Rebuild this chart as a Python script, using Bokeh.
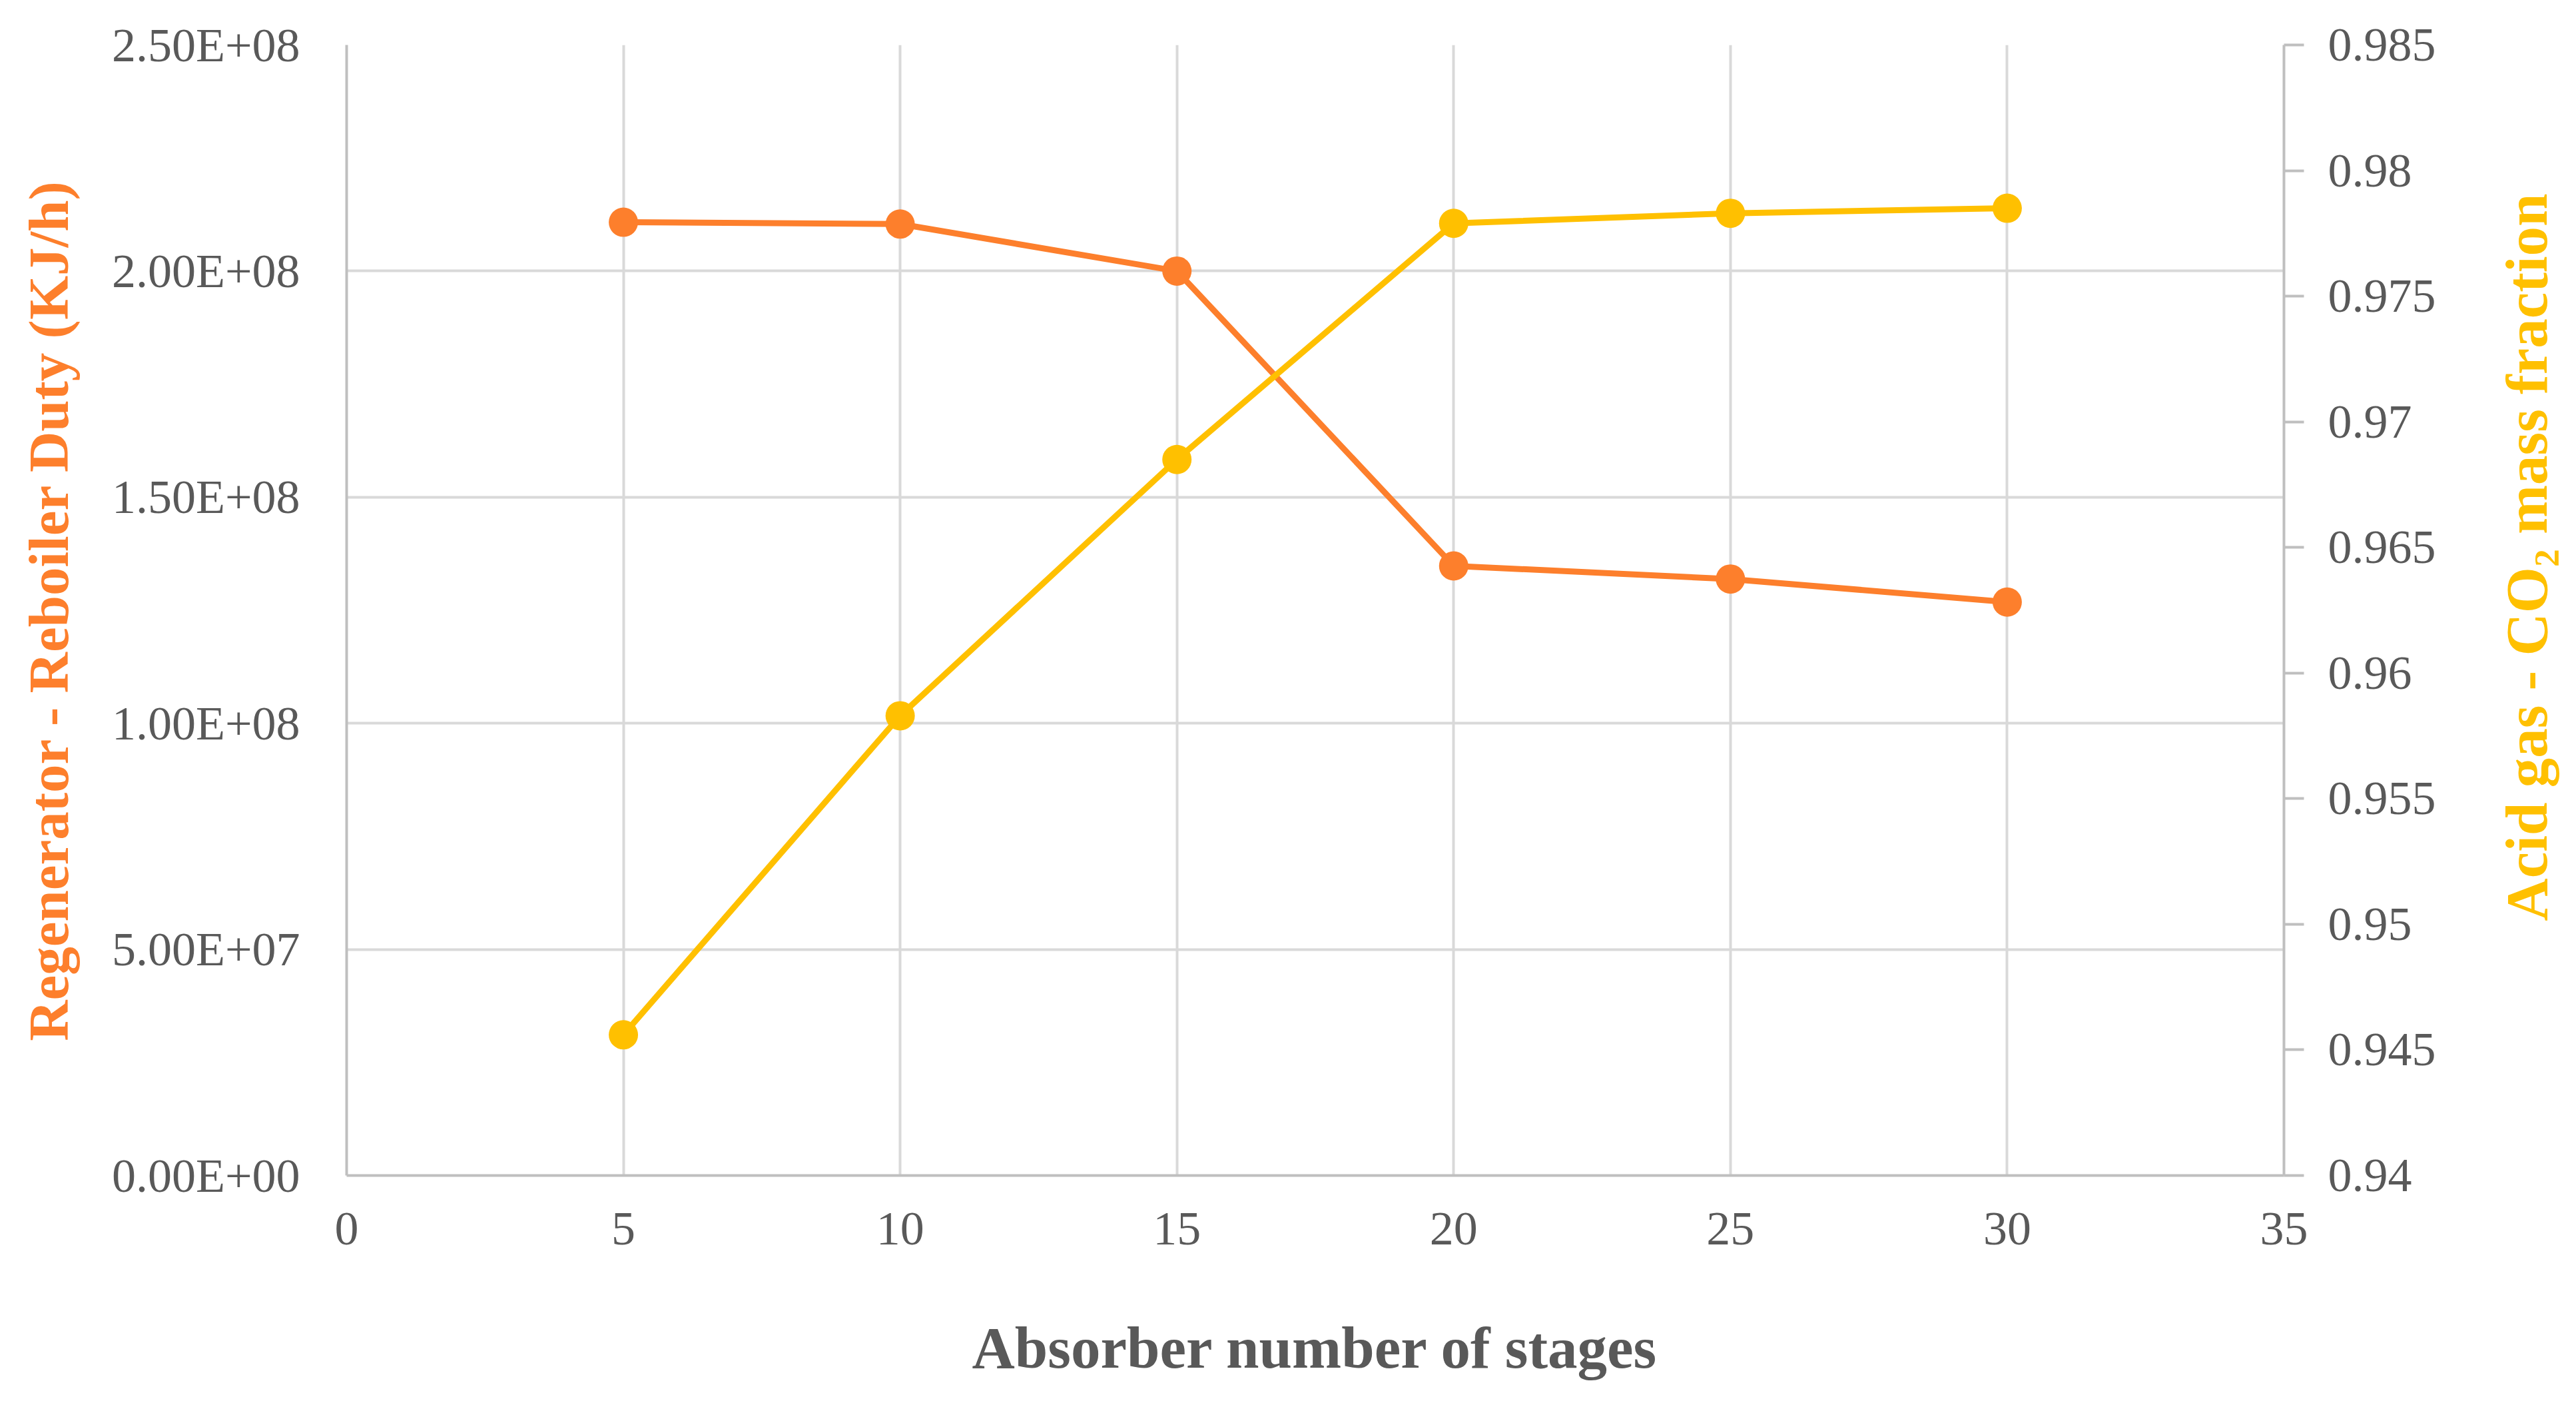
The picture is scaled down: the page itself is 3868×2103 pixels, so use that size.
from bokeh.plotting import figure
from bokeh.layouts import row
from bokeh.models import Range1d, LinearAxis, FixedTicker
from bokeh.embed import file_html
from bokeh.resources import INLINE

# ---- data ----
stages = [5, 10, 15, 20, 25, 30]
reboiler_duty = [2.108e8, 2.104e8, 2.000e8, 1.348e8, 1.319e8, 1.268e8]
co2_mass_fraction = [0.9456, 0.9583, 0.9685, 0.9779, 0.9783, 0.9785]

x_ticks = [0, 5, 10, 15, 20, 25, 30, 35]
left_ticks = [0, 5e7, 1e8, 1.5e8, 2e8, 2.5e8]
left_tick_labels = ["0.00E+00", "5.00E+07", "1.00E+08", "1.50E+08", "2.00E+08", "2.50E+08"]
right_ticks = [0.94, 0.945, 0.95, 0.955, 0.96, 0.965, 0.97, 0.975, 0.98, 0.985]
right_tick_labels = ["0.94", "0.945", "0.95", "0.955", "0.96", "0.965", "0.97", "0.975", "0.98", "0.985"]

x_title = "Absorber number of stages"
left_title = "Regenerator - Reboiler Duty (KJ/h)"
right_title = "Acid gas - CO\u2082 mass fraction"

ORANGE = "#FD7F2C"
YELLOW = "#FFC000"
GRID = "#D9D9D9"
AXIS = "#BFBFBF"
TEXT = "#595959"
FONT = "Liberation Serif"

p = figure(frame_width=2909, frame_height=1697,
           x_range=Range1d(0, 35), y_range=Range1d(0, 2.5e8),
           output_backend="svg", toolbar_location=None,
           min_border_left=520, min_border_right=271,
           min_border_top=67, min_border_bottom=323,
           x_axis_location="below", y_axis_location="left")
p.outline_line_color = None
p.background_fill_color = "white"
p.border_fill_color = "white"
p.extra_y_ranges = {"right": Range1d(0.94, 0.985)}

# x axis
xa = p.xaxis[0]
xa.ticker = FixedTicker(ticks=x_ticks)
xa.axis_line_color = AXIS
xa.axis_line_width = 4
xa.major_tick_line_color = None
xa.minor_tick_line_color = None
xa.major_label_text_font = FONT
xa.major_label_text_font_size = "72px"
xa.major_label_text_color = TEXT
xa.major_label_standoff = 50
xa.axis_label = x_title
xa.axis_label_text_font = FONT
xa.axis_label_text_font_style = "bold"
xa.axis_label_text_font_size = "89px"
xa.axis_label_text_color = TEXT
xa.axis_label_standoff = 103

# left axis
ya = p.yaxis[0]
ya.ticker = FixedTicker(ticks=left_ticks)
ya.major_label_overrides = {t: l for t, l in zip(left_ticks, left_tick_labels)}
ya.axis_line_color = AXIS
ya.axis_line_width = 4
ya.major_tick_line_color = None
ya.minor_tick_line_color = None
ya.major_label_text_font = FONT
ya.major_label_text_font_size = "72px"
ya.major_label_text_color = TEXT
ya.major_label_standoff = 64
ya.axis_label = left_title
ya.axis_label_text_font = FONT
ya.axis_label_text_font_style = "bold"
ya.axis_label_text_font_size = "85px"
ya.axis_label_text_color = ORANGE
ya.axis_label_standoff = 45

# right axis (ticks and tick labels)
ra = LinearAxis(y_range_name="right", ticker=FixedTicker(ticks=right_ticks))
ra.major_label_overrides = {t: l for t, l in zip(right_ticks, right_tick_labels)}
ra.axis_line_color = AXIS
ra.axis_line_width = 4
ra.major_tick_line_color = AXIS
ra.major_tick_line_width = 4
ra.major_tick_out = 30
ra.major_tick_in = 0
ra.minor_tick_line_color = None
ra.major_label_text_font = FONT
ra.major_label_text_font_size = "72px"
ra.major_label_text_color = TEXT
ra.major_label_standoff = 36
p.add_layout(ra, "right")

# grids
p.xgrid.ticker = FixedTicker(ticks=x_ticks)
p.ygrid.ticker = FixedTicker(ticks=left_ticks)
p.grid.grid_line_color = GRID
p.grid.grid_line_width = 4

# series
p.line(stages, reboiler_duty, line_color=ORANGE, line_width=9)
p.scatter(stages, reboiler_duty, size=44, fill_color=ORANGE, line_color=None)
p.line(stages, co2_mass_fraction, y_range_name="right", line_color=YELLOW, line_width=9)
p.scatter(stages, co2_mass_fraction, y_range_name="right", size=44,
          fill_color=YELLOW, line_color=None)

# narrow companion figure that carries the right-hand title (reads bottom-to-top)
p2 = figure(frame_width=2, frame_height=1538,
            x_range=Range1d(0, 1), y_range=Range1d(0, 1),
            output_backend="svg", toolbar_location=None,
            min_border_left=142, min_border_right=8,
            min_border_top=67, min_border_bottom=482,
            x_axis_location=None, y_axis_location="left")
p2.outline_line_color = None
p2.grid.visible = False
p2.border_fill_color = "white"
p2.background_fill_color = "white"
ta = p2.yaxis[0]
ta.ticker = FixedTicker(ticks=[])
ta.axis_line_color = None
ta.major_tick_line_color = None
ta.minor_tick_line_color = None
ta.major_tick_out = 0
ta.major_tick_in = 0
ta.major_label_standoff = 0
ta.axis_label = right_title
ta.axis_label_text_font = FONT
ta.axis_label_text_font_style = "bold"
ta.axis_label_text_font_size = "89px"
ta.axis_label_text_color = YELLOW
ta.axis_label_standoff = 0

layout = row(p, p2)
open("out.html", "w").write(file_html(layout, INLINE))
